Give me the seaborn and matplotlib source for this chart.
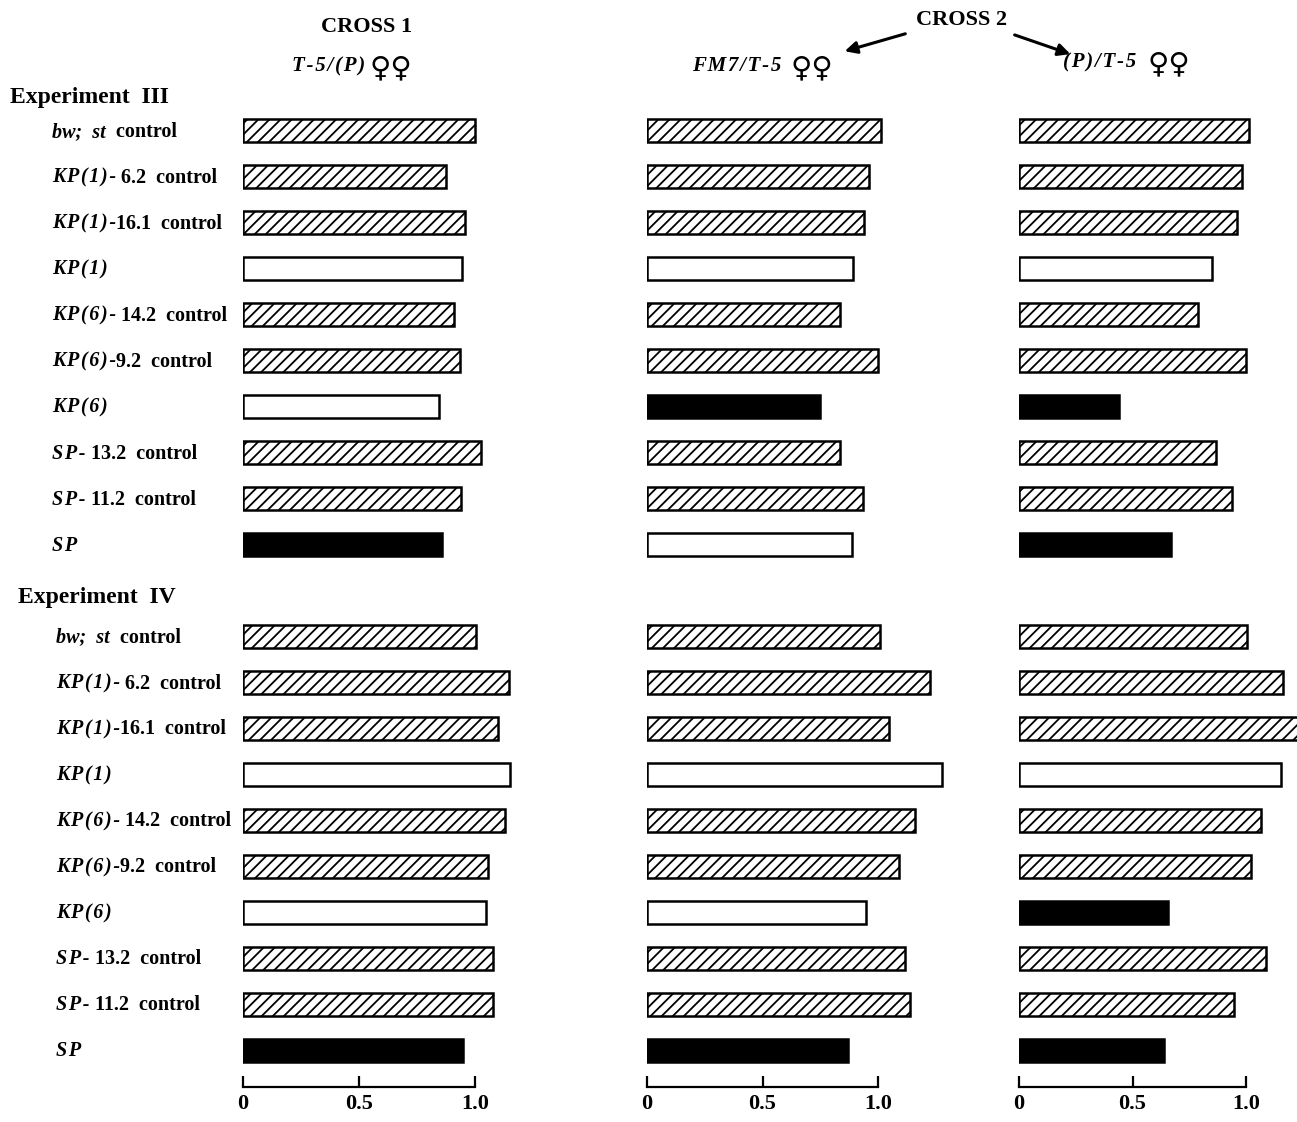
import numpy as np
import pandas as pd
import matplotlib
matplotlib.use('Agg')
import matplotlib.pyplot as plt
import seaborn as sns
from matplotlib import transforms
from matplotlib.patches import FancyArrowPatch

sns.set_theme(style='white')
plt.rcParams['font.family'] = ['Liberation Serif', 'DejaVu Sans']
plt.rcParams['font.weight'] = 'bold'
plt.rcParams['text.color'] = 'black'
plt.rcParams['xtick.color'] = 'black'
plt.rcParams['hatch.linewidth'] = 1.3

# ---------------- data ----------------
label_italic = ["bw;  st", "KP(1)-", "KP(1)-", "KP(1)", "KP(6)-", "KP(6)-", "KP(6)", "SP-", "SP-", "SP"]
label_plain = ["  control", " 6.2  control", "16.1  control", "", " 14.2  control",
               "9.2  control", "", " 13.2  control", " 11.2  control", ""]

exp3_positions = [0, 1, 2, 3, 4, 5, 6, 7, 8, 9]
exp4_positions = [11, 12, 13, 14, 15, 16, 17, 18, 19, 20]

cross1_exp3 = [1.00, 0.875, 0.957, 0.944, 0.91, 0.935, 0.845, 1.026, 0.94, 0.858]
cross1_exp4 = [1.004, 1.147, 1.10, 1.15, 1.13, 1.056, 1.047, 1.078, 1.078, 0.948]
fm7_exp3 = [1.013, 0.96, 0.94, 0.89, 0.835, 1.0, 0.75, 0.835, 0.935, 0.887]
fm7_exp4 = [1.009, 1.225, 1.048, 1.277, 1.16, 1.09, 0.948, 1.117, 1.138, 0.87]
p_exp3 = [1.013, 0.982, 0.96, 0.85, 0.79, 1.0, 0.44, 0.87, 0.94, 0.67]
p_exp4 = [1.004, 1.164, 1.24, 1.155, 1.066, 1.02, 0.655, 1.09, 0.947, 0.64]

H, O, B = "hatch", "open", "black"
cross1_style3 = [H, H, H, O, H, H, O, H, H, B]
cross1_style4 = [H, H, H, O, H, H, O, H, H, B]
fm7_style3 = [H, H, H, O, H, H, B, H, H, O]
fm7_style4 = [H, H, H, O, H, H, O, H, H, B]
p_style3 = [H, H, H, O, H, H, B, H, H, B]
p_style4 = [H, H, H, O, H, H, B, H, H, B]

tick_values = [0, 0.5, 1.0]
tick_labels = ["0", "0.5", "1.0"]

header_cross = ["CROSS 1", "CROSS 2"]
header_geno = ["T-5/(P)", "FM7/T-5", "(P)/T-5"]
female_sign = "♀♀"

# ---------------- layout ----------------
W, Hpx = 1297, 1122
fig = plt.figure(figsize=(W / 100, Hpx / 100), dpi=100)

y_top_px, y_bot_px = 108, 1087
ylim = (20.8, -0.5)
columns = [
    (243, 232, cross1_exp3, cross1_exp4, cross1_style3, cross1_style4),
    (647, 231, fm7_exp3, fm7_exp4, fm7_style3, fm7_style4),
    (1019, 227, p_exp3, p_exp4, p_style3, p_style4),
]
xmax = 1.3
axes = []
for x0, scale, v3, v4, s3, s4 in columns:
    ax = fig.add_axes([x0 / W, 1 - y_bot_px / Hpx, xmax * scale / W, (y_bot_px - y_top_px) / Hpx])
    ax.patch.set_alpha(0)
    df = pd.DataFrame({"pos": exp3_positions + exp4_positions, "value": v3 + v4})
    style_by_pos = dict(zip(exp3_positions + exp4_positions, s3 + s4))
    sns.barplot(data=df, x="value", y="pos", orient="h", native_scale=True, width=0.5,
                color="white", edgecolor="black", linewidth=1.8, errorbar=None,
                saturation=1, ax=ax)
    for p in ax.patches:
        pos = int(round(p.get_y() + p.get_height() / 2))
        st = style_by_pos[pos]
        if st == H:
            p.set_facecolor("white")
            p.set_hatch("///")
        elif st == B:
            p.set_facecolor("black")
        else:
            p.set_facecolor("white")
    ax.set_xlim(0, xmax)
    ax.set_ylim(*ylim)
    ax.set_yticks([])
    ax.set_ylabel("")
    ax.set_xlabel("")
    for s in ["left", "top", "right"]:
        ax.spines[s].set_visible(False)
    ax.spines["bottom"].set_bounds(0, 1)
    ax.spines["bottom"].set_linewidth(1.6)
    ax.spines["bottom"].set_color("black")
    ax.set_xticks(tick_values)
    ax.set_xticklabels(tick_labels)
    ax.tick_params(axis="x", direction="in", length=8, width=1.6, labelsize=16, pad=5,
                   colors="black", bottom=True)
    axes.append(ax)

ax1 = axes[0]
tr = transforms.blended_transform_factory(fig.transFigure, ax1.transData)
# baseline sits a little below the row centre
tr_base = transforms.offset_copy(tr, fig=fig, y=-6, units="dots")
y_base = transforms.offset_copy(ax1.transData, fig=fig, y=-6, units="dots")
HAIR = "\u200a"

def spaced(s):
    return HAIR.join(list(s)) if " " not in s else s

def row_label(x_px, pos, ital, plain, fs=14.5):
    t1 = ax1.text(x_px / W, pos, spaced(ital), transform=tr_base, style="italic",
                  weight="bold", fontsize=fs, ha="left", va="baseline", color="black")
    if plain:
        ax1.annotate(plain, xy=(1, pos), xycoords=(t1, y_base), ha="left", va="baseline",
                     fontsize=fs, weight="bold", color="black", annotation_clip=False)

for i, pos in enumerate(exp3_positions):
    row_label(52, pos, label_italic[i], label_plain[i])
for i, pos in enumerate(exp4_positions):
    row_label(56, pos, label_italic[i], label_plain[i])

ax1.text(10 / W, -0.72, "Experiment  III", transform=tr, fontsize=17, weight="bold",
         ha="left", va="center", color="black")
ax1.text(18 / W, 10.15, "Experiment  IV", transform=tr, fontsize=17, weight="bold",
         ha="left", va="center", color="black")

# ---------------- headers ----------------
def fy(y):
    return 1 - y / Hpx

fig.text(367 / W, fy(27), header_cross[0], ha="center", va="center", fontsize=16, weight="bold")
fig.text(962 / W, fy(20), header_cross[1], ha="center", va="center", fontsize=16, weight="bold")

for (xt, yt, xs), g in zip([(292, 66, 370), (692, 66, 791), (1063, 62, 1148)], header_geno):
    fig.text(xt / W, fy(yt), spaced(g), ha="left", va="center", fontsize=15,
             style="italic", weight="bold")
    fig.text(xs / W, fy(yt + 2), female_sign, ha="left", va="center", fontsize=21,
             weight="bold", family=["DejaVu Sans"])

for (xs, ys), (xe, ye) in [((908, 33), (842, 52)), ((1012, 34), (1073, 55))]:
    arr = FancyArrowPatch((xs / W, fy(ys)), (xe / W, fy(ye)), transform=fig.transFigure,
                          arrowstyle="-|>", mutation_scale=18, lw=2.2, color="black")
    fig.add_artist(arr)

fig.savefig("out.png", dpi=100, facecolor="white")
